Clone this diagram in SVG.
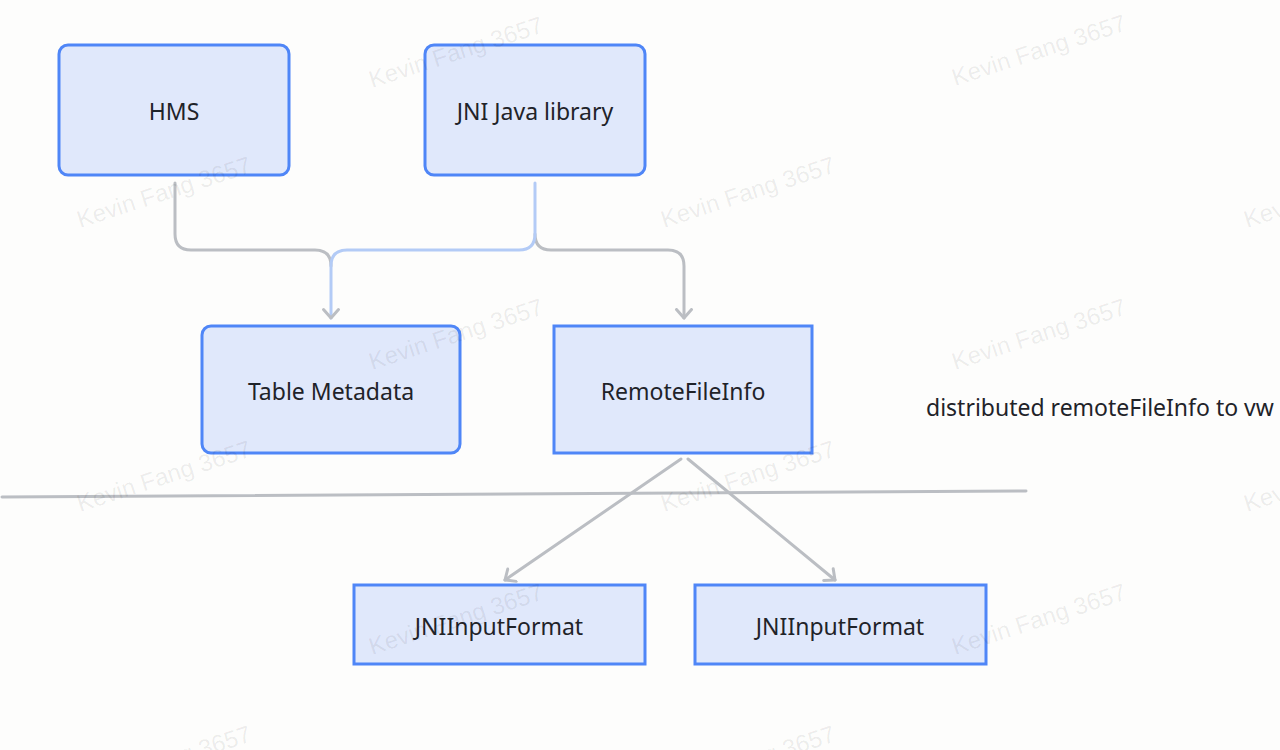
<svg xmlns="http://www.w3.org/2000/svg" width="1280" height="750" viewBox="0 0 1280 750">
<style>
.node{fill:#e0e8fb;stroke:#4f86f7;stroke-width:3}
.lbl{font-family:"Noto Sans","Open Sans",sans-serif;font-size:23px;fill:#1f2329;text-anchor:middle;dominant-baseline:central}
.edge{fill:none;stroke:#bbbec3;stroke-width:3;stroke-linecap:round;stroke-linejoin:round}
.edgeb{fill:none;stroke:#b3cbf6;stroke-width:3;stroke-linecap:round}
.wm{font-family:"Liberation Sans",Arial,sans-serif;font-size:24px;fill:#000000;fill-opacity:0.075}
</style>
<defs>
<marker id="ah" viewBox="0 0 20 20" refX="10" refY="10" markerWidth="20" markerHeight="20" markerUnits="userSpaceOnUse" orient="auto">
<path d="M1.5,2.5 L10,10 L1.5,17.5" fill="none" stroke="#bbbec3" stroke-width="3" stroke-linecap="round" stroke-linejoin="round"/>
</marker>
</defs>
<rect width="1280" height="750" fill="#fdfdfc"/>
<g id="connectors">
<path class="edge" d="M175,183 V234 Q175,250 191,250 H315 Q331,250 331,266"/>
<path class="edge" d="M535,234 Q535,250 551,250 H668 Q684,250 684,266 V318" marker-end="url(#ah)"/>
<path class="edgeb" d="M535,183 V234 Q535,250 519,250 H347 Q331,250 331,266 V318"/>
<path d="M323.5,309.5 L331,318 L338.5,309.5" fill="none" stroke="#bbbec3" stroke-width="3" stroke-linecap="round" stroke-linejoin="round"/>
<path class="edge" d="M681,459 L505,580" marker-end="url(#ah)"/>
<path class="edge" d="M688,459 L835,580" marker-end="url(#ah)"/>
<path class="edge" d="M2,497 L1026,491"/>
</g>
<g id="hms"><rect class="node" x="59" y="45" width="230" height="130" rx="9"/><text class="lbl" x="174" y="111">HMS</text></g>
<g id="jni-java"><rect class="node" x="425" y="45" width="220" height="130" rx="9"/><text class="lbl" x="535" y="111">JNI Java library</text></g>
<g id="table-metadata"><rect class="node" x="202" y="326" width="258" height="127" rx="9"/><text class="lbl" x="331" y="391">Table Metadata</text></g>
<g id="remote-file-info"><rect class="node" x="554" y="326" width="258" height="127"/><text class="lbl" x="683" y="391">RemoteFileInfo</text></g>
<g id="jni-input-1"><rect class="node" x="354" y="585" width="291" height="79"/><text class="lbl" x="499" y="626">JNIInputFormat</text></g>
<g id="jni-input-2"><rect class="node" x="695" y="585" width="291" height="79"/><text class="lbl" x="840" y="626">JNIInputFormat</text></g>
<g id="note"><text x="926" y="407" font-family="'Noto Sans','Open Sans',sans-serif" font-size="23" fill="#1f2329" dominant-baseline="central">distributed remoteFileInfo to vw</text></g>
<g id="watermarks">
<text class="wm" transform="translate(372,88) rotate(-18)">Kevin Fang 3657</text>
<text class="wm" transform="translate(955,86) rotate(-18)">Kevin Fang 3657</text>
<text class="wm" transform="translate(80,228) rotate(-18)">Kevin Fang 3657</text>
<text class="wm" transform="translate(664,228) rotate(-18)">Kevin Fang 3657</text>
<text class="wm" transform="translate(1247,228) rotate(-18)">Kevin Fang 3657</text>
<text class="wm" transform="translate(372,370) rotate(-18)">Kevin Fang 3657</text>
<text class="wm" transform="translate(955,370) rotate(-18)">Kevin Fang 3657</text>
<text class="wm" transform="translate(80,512) rotate(-18)">Kevin Fang 3657</text>
<text class="wm" transform="translate(664,512) rotate(-18)">Kevin Fang 3657</text>
<text class="wm" transform="translate(1247,512) rotate(-18)">Kevin Fang 3657</text>
<text class="wm" transform="translate(372,655) rotate(-18)">Kevin Fang 3657</text>
<text class="wm" transform="translate(955,655) rotate(-18)">Kevin Fang 3657</text>
<text class="wm" transform="translate(80,797) rotate(-18)">Kevin Fang 3657</text>
<text class="wm" transform="translate(664,797) rotate(-18)">Kevin Fang 3657</text>
</g>
</svg>
